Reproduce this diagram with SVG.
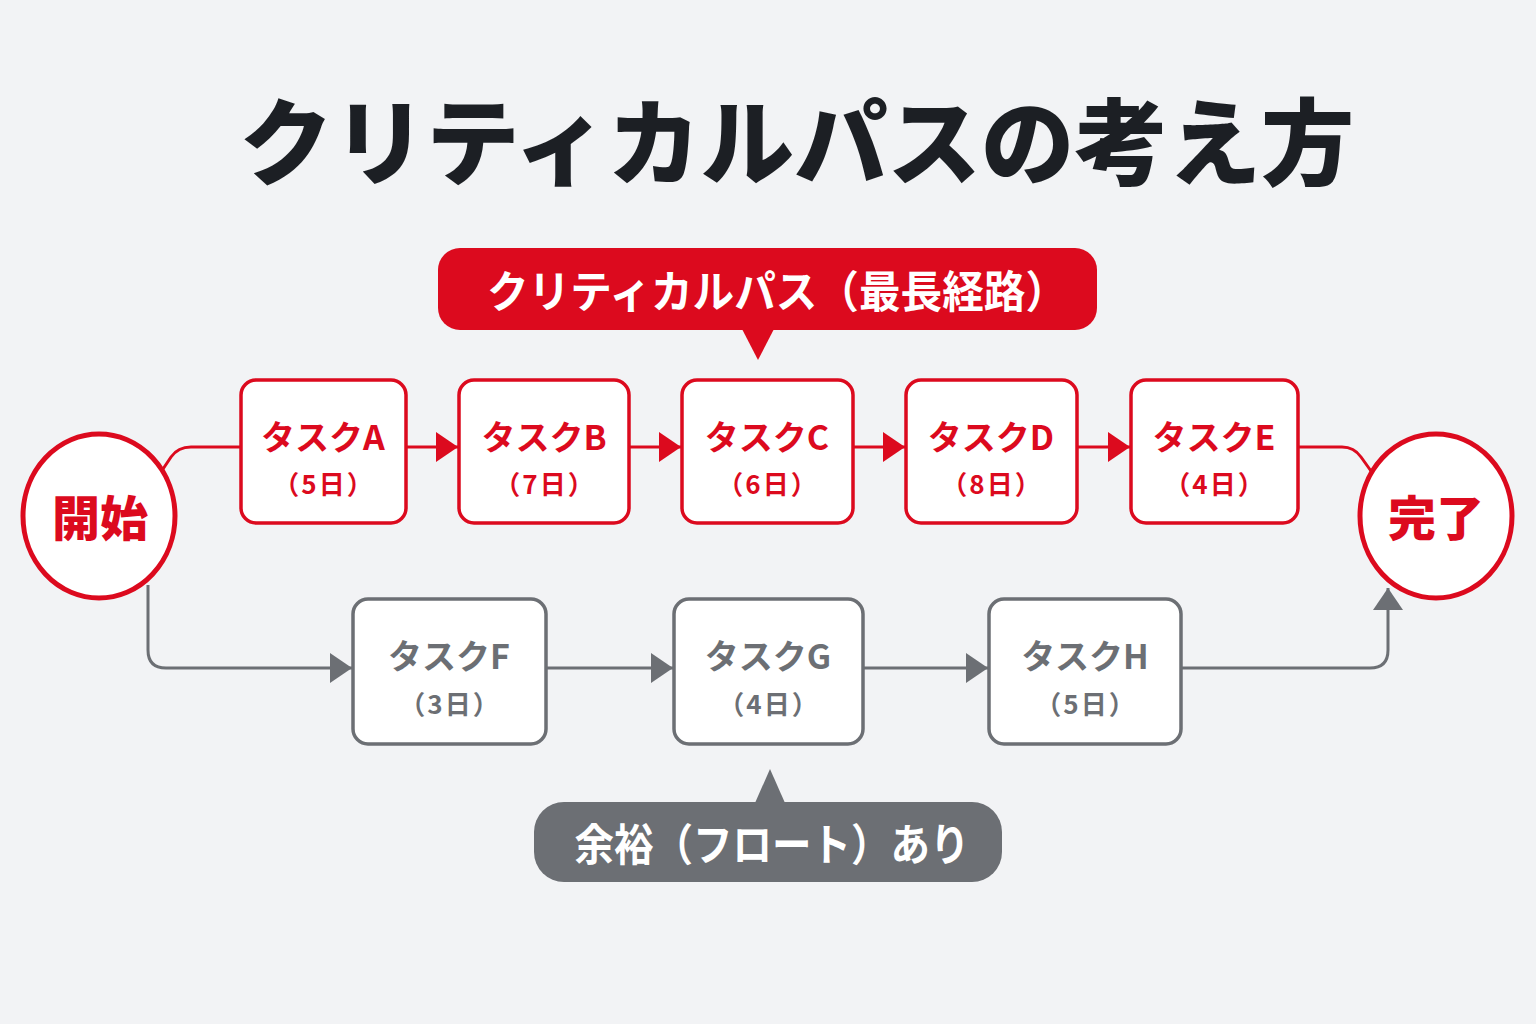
<svg xmlns="http://www.w3.org/2000/svg" width="1536" height="1024" viewBox="0 0 1536 1024">
<style>
  text { font-family: "Noto Sans CJK JP", "Noto Sans", sans-serif; font-weight: 700; text-anchor: middle; }
  .title { font-size: 94px; font-weight: 900; fill: #1c1f24; }
  .rbox { fill: #ffffff; stroke: #dc0a1e; stroke-width: 3.5; }
  .gbox { fill: #ffffff; stroke: #6c6f74; stroke-width: 3.5; }
  .rname { font-size: 34px; fill: #dc0a1e; }
  .rdays { font-size: 26px; fill: #dc0a1e; letter-spacing: 2px; }
  .gname { font-size: 34px; fill: #6c6f74; }
  .gdays { font-size: 26px; fill: #6c6f74; letter-spacing: 2px; }
  .circ { fill: #ffffff; stroke: #dc0a1e; stroke-width: 5; }
  .ctext { font-size: 48px; font-weight: 900; fill: #dc0a1e; }
  .rline { fill: none; stroke: #dc0a1e; stroke-width: 3; }
  .gline { fill: none; stroke: #6c6f74; stroke-width: 3; }
  .callout-text { font-size: 44px; fill: #ffffff; }
</style>
<defs>
  <marker id="ar" viewBox="0 0 22 30" refX="22" refY="15" markerWidth="22" markerHeight="30" markerUnits="userSpaceOnUse" orient="auto">
    <path d="M0,0 L22,15 L0,30 Z" fill="#dc0a1e"/>
  </marker>
  <marker id="ag" viewBox="0 0 22 30" refX="22" refY="15" markerWidth="22" markerHeight="30" markerUnits="userSpaceOnUse" orient="auto">
    <path d="M0,0 L22,15 L0,30 Z" fill="#6c6f74"/>
  </marker>
</defs>
<rect width="1536" height="1024" fill="#f2f3f5"/>

<text class="title" x="797" y="178" textLength="1115" lengthAdjust="spacingAndGlyphs">クリティカルパスの考え方</text>

<g id="callout-critical">
  <rect x="438" y="248" width="659" height="82" rx="22" fill="#dc0a1e"/>
  <path d="M742,329 L774,329 L758,360 Z" fill="#dc0a1e"/>
  <text class="callout-text" x="777" y="308" textLength="580" lengthAdjust="spacingAndGlyphs">クリティカルパス（最長経路）</text>
</g>

<g id="connectors">
  <path class="rline" d="M163,469 L171,457 Q178,447 191,447 L240,447"/>
  <path class="rline" d="M406,447 L458,447" marker-end="url(#ar)"/>
  <path class="rline" d="M629,447 L681,447" marker-end="url(#ar)"/>
  <path class="rline" d="M853,447 L905,447" marker-end="url(#ar)"/>
  <path class="rline" d="M1077,447 L1130,447" marker-end="url(#ar)"/>
  <path class="rline" d="M1298,447 L1342,447 Q1354,447 1361,457 L1371,471"/>
  <path class="gline" d="M148,585 L148,650 Q148,668 166,668 L352,668" marker-end="url(#ag)"/>
  <path class="gline" d="M546,668 L673,668" marker-end="url(#ag)"/>
  <path class="gline" d="M863,668 L988,668" marker-end="url(#ag)"/>
  <path class="gline" d="M1181,668 L1370,668 Q1388,668 1388,650 L1388,588" marker-end="url(#ag)"/>
</g>

<g id="start">
  <ellipse class="circ" cx="99" cy="516" rx="76" ry="82"/>
  <text class="ctext" x="100" y="536">開始</text>
</g>
<g id="done">
  <ellipse class="circ" cx="1436" cy="516" rx="76" ry="82"/>
  <text class="ctext" x="1436" y="536">完了</text>
</g>

<g id="taskA">
  <rect class="rbox" x="241" y="380" width="165" height="143" rx="15"/>
  <text class="rname" x="323" y="450">タスクA</text>
  <text class="rdays" x="324" y="494">（5日）</text>
</g>
<g id="taskB">
  <rect class="rbox" x="459" y="380" width="170" height="143" rx="15"/>
  <text class="rname" x="544" y="450">タスクB</text>
  <text class="rdays" x="545" y="494">（7日）</text>
</g>
<g id="taskC">
  <rect class="rbox" x="682" y="380" width="171" height="143" rx="15"/>
  <text class="rname" x="767" y="450">タスクC</text>
  <text class="rdays" x="768" y="494">（6日）</text>
</g>
<g id="taskD">
  <rect class="rbox" x="906" y="380" width="171" height="143" rx="15"/>
  <text class="rname" x="991" y="450">タスクD</text>
  <text class="rdays" x="992" y="494">（8日）</text>
</g>
<g id="taskE">
  <rect class="rbox" x="1131" y="380" width="167" height="143" rx="15"/>
  <text class="rname" x="1214" y="450">タスクE</text>
  <text class="rdays" x="1215" y="494">（4日）</text>
</g>

<g id="taskF">
  <rect class="gbox" x="353" y="599" width="193" height="145" rx="15"/>
  <text class="gname" x="449" y="669">タスクF</text>
  <text class="gdays" x="450" y="714">（3日）</text>
</g>
<g id="taskG">
  <rect class="gbox" x="674" y="599" width="189" height="145" rx="15"/>
  <text class="gname" x="768" y="669">タスクG</text>
  <text class="gdays" x="769" y="714">（4日）</text>
</g>
<g id="taskH">
  <rect class="gbox" x="989" y="599" width="192" height="145" rx="15"/>
  <text class="gname" x="1085" y="669">タスクH</text>
  <text class="gdays" x="1086" y="714">（5日）</text>
</g>

<g id="callout-float">
  <path d="M755,803 L785,803 L770,769 Z" fill="#6c6f74"/>
  <rect x="534" y="802" width="468" height="80" rx="30" fill="#6c6f74"/>
  <text class="callout-text" x="772" y="861" textLength="395" lengthAdjust="spacingAndGlyphs">余裕（フロート）あり</text>
</g>
</svg>
